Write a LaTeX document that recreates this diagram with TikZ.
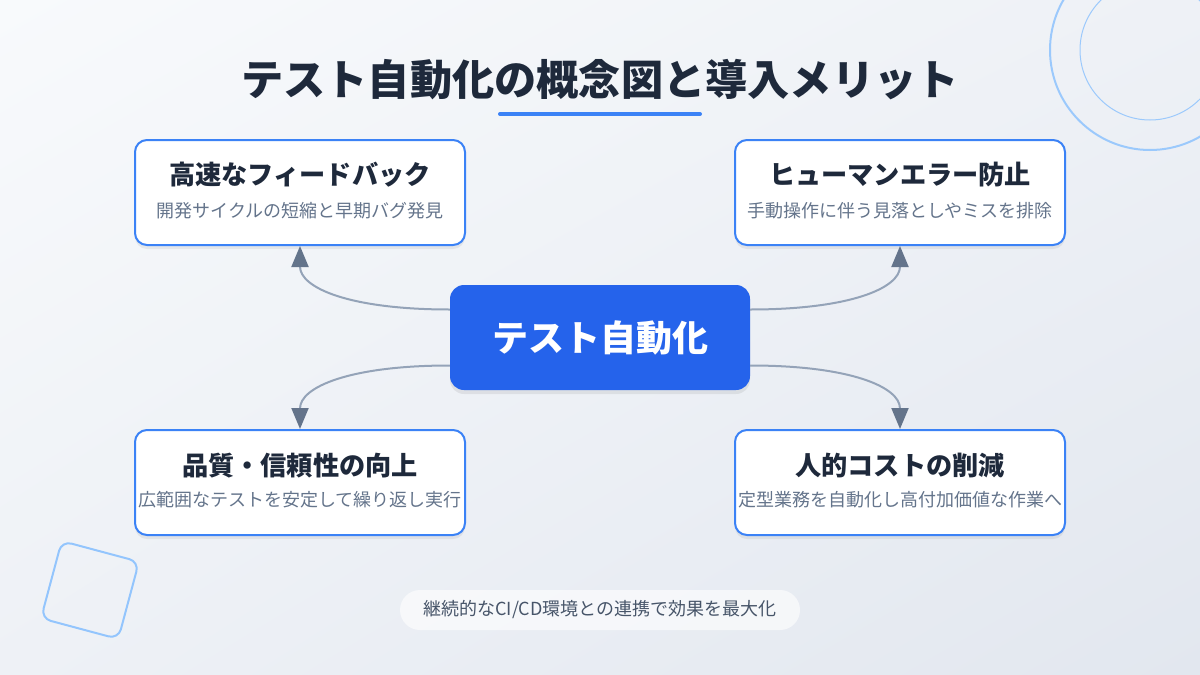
\documentclass[tikz,border=0pt]{standalone}
\usepackage{fontspec}
\setmainfont{Noto Sans CJK JP}
\usetikzlibrary{arrows.meta,shadows,shadings}
\definecolor{bgA}{HTML}{F8FAFC}
\definecolor{bgB}{HTML}{EEF1F6}
\definecolor{bgC}{HTML}{E2E7EF}
\definecolor{titlec}{HTML}{1E293B}
\definecolor{subc}{HTML}{64748B}
\definecolor{notec}{HTML}{475569}
\definecolor{accent}{HTML}{3B82F6}
\definecolor{corec}{HTML}{2563EB}
\definecolor{linec}{HTML}{94A3B8}
\definecolor{arrowc}{HTML}{64748B}
\definecolor{decoc}{HTML}{93C5FD}
\tikzset{
  card/.style={draw=accent, line width=2pt, fill=white, rounded corners=12pt,
    minimum width=330pt, minimum height=105pt, inner sep=0pt,
    drop shadow={shadow xshift=0pt, shadow yshift=-4pt, opacity=0.06, fill=black}},
  cardtitle/.style={font=\bfseries\fontsize{26.2}{31}\selectfont, text=titlec, inner sep=0pt},
  cardsub/.style={font=\fontsize{18}{21}\selectfont, text=subc, inner sep=0pt},
  corebox/.style={fill=corec, rounded corners=14pt, minimum width=300pt, minimum height=105pt,
    inner sep=0pt, text=white, font=\bfseries\fontsize{36}{42}\selectfont,
    drop shadow={shadow xshift=0pt, shadow yshift=-4pt, opacity=0.07, fill=black}},
  conn/.style={draw=linec, line width=2pt, -{Triangle[length=21pt,width=17pt,color=arrowc]}},
  pill/.style={fill=white, fill opacity=0.6, text opacity=1, rounded corners=20pt,
    minimum width=400pt, minimum height=40pt, inner sep=0pt, text=notec,
    font=\fontsize{18}{21}\selectfont},
}
\begin{document}
\begin{tikzpicture}[x=1pt,y=-1pt]
\useasboundingbox (0,0) rectangle (1200,675);
\shade[upper left=bgA, upper right=bgB, lower left=bgB, lower right=bgC] (0,0) rectangle (1200,675);
% decorations
\begin{scope}
\clip (0,0) rectangle (1200,675);
\draw[decoc, line width=2pt, opacity=0.9] (1150,50) circle[radius=100];
\draw[decoc, line width=1pt, opacity=0.9] (1150,50) circle[radius=70];
\draw[decoc, line width=2pt, rounded corners=10pt, rotate around={-15:(90,590)}] (50,550) rectangle (130,630);
\end{scope}
% title
\node[font=\bfseries\fontsize{42.2}{50}\selectfont, text=titlec, inner sep=0pt] (title) at (600,80) {テスト自動化の概念図と導入メリット};
\draw[accent, line width=4pt, line cap=round] (500,114) -- (700,114);
% cards
\node[card] (fb) at (300,192.5) {};
\node[cardtitle] (fbt) at ([yshift=17.5pt]fb.center) {高速なフィードバック};
\node[cardsub] (fbs) at ([yshift=-18.5pt]fb.center) {開発サイクルの短縮と早期バグ発見};
\node[card] (he) at (900,192.5) {};
\node[cardtitle] (het) at ([yshift=17.5pt]he.center) {ヒューマンエラー防止};
\node[cardsub] (hes) at ([yshift=-18.5pt]he.center) {手動操作に伴う見落としやミスを排除};
\node[card] (ql) at (300,482.5) {};
\node[cardtitle] (qlt) at ([yshift=17pt]ql.center) {品質・信頼性の向上};
\node[cardsub] (qls) at ([yshift=-17.5pt]ql.center) {広範囲なテストを安定して繰り返し実行};
\node[card] (hc) at (900,482.5) {};
\node[cardtitle] (hct) at ([yshift=17pt]hc.center) {人的コストの削減};
\node[cardsub] (hcs) at ([yshift=-17.5pt]hc.center) {定型業務を自動化し高付加価値な作業へ};
% core
\node[corebox] (core) at (600,337.5) {テスト自動化};
% connectors
\draw[conn] ([yshift=28pt]core.west) .. controls +(-100,0) and +(0,42) .. (fb.south);
\draw[conn] ([yshift=28pt]core.east) .. controls +(100,0) and +(0,42) .. (he.south);
\draw[conn] ([yshift=-28pt]core.west) .. controls +(-100,0) and +(0,-42) .. (ql.north);
\draw[conn] ([yshift=-28pt]core.east) .. controls +(100,0) and +(0,-42) .. (hc.north);
% note
\node[pill] (note) at (600,610) {継続的なCI/CD環境との連携で効果を最大化};
\end{tikzpicture}
\end{document}
